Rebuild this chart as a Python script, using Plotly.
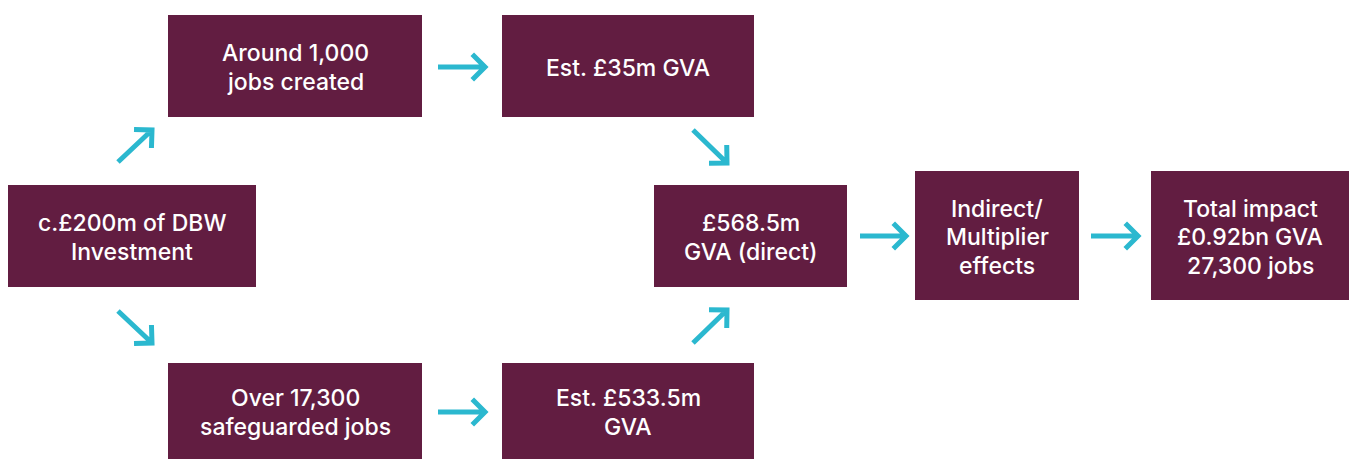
import plotly.graph_objects as go
import math

# Diagram content
box_labels = [
    "c.£200m of DBW<br>Investment",
    "Around 1,000<br>jobs created",
    "Est. £35m GVA",
    "Over 17,300<br>safeguarded jobs",
    "Est. £533.5m<br>GVA",
    "£568.5m<br>GVA (direct)",
    "Indirect/<br>Multiplier<br>effects",
    "Total impact<br>£0.92bn GVA<br>27,300 jobs",
]

# Layout of boxes (x0, x1, y0, y1) in pixel-like units
box_pos = [
    (8, 256, 185, 287),
    (168, 422, 15, 117),
    (502, 754, 15, 117),
    (168, 422, 363, 459),
    (502, 754, 363, 459),
    (654, 847, 185, 287),
    (915, 1079, 171, 300),
    (1151, 1349, 171, 300),
]

# Arrows (tail x, tail y, head x, head y)
arrow_pos = [
    (118, 162, 152, 130),
    (118, 311, 152, 343),
    (438, 67, 485, 67),
    (438, 412, 485, 412),
    (693, 130, 727, 163),
    (693, 343, 727, 310),
    (860, 236, 906, 236),
    (1091, 236, 1138, 236),
]

BOX = "#621D41"
TEAL = "#2BB8CF"
W, H = 1357, 459
LINE_GAP = 28.5
TEXT_DY = 1.5

fig = go.Figure()
shapes = []
annotations = []
for (x0, x1, y0, y1), lab in zip(box_pos, box_labels):
    shapes.append(dict(type="rect", x0=x0, x1=x1, y0=y0, y1=y1,
                       fillcolor=BOX, line=dict(width=0), layer="below"))
    lines = lab.split("<br>")
    cy = (y0 + y1) / 2 + TEXT_DY
    for i, ln in enumerate(lines):
        annotations.append(dict(x=(x0 + x1) / 2, y=cy + (i - (len(lines) - 1) / 2) * LINE_GAP,
                                text=ln, showarrow=False, xref="x", yref="y",
                                font=dict(family="Inter", size=23, color="white", weight=500),
                                align="center"))

for (tx, ty, hx, hy) in arrow_pos:
    dx, dy = hx - tx, hy - ty
    L = math.hypot(dx, dy)
    bx, by = -dx / L, -dy / L
    leg = 18
    c, s = math.cos(math.pi / 4), math.sin(math.pi / 4)
    p1 = (hx + leg * (bx * c - by * s), hy + leg * (bx * s + by * c))
    p2 = (hx + leg * (bx * c + by * s), hy + leg * (-bx * s + by * c))
    path = (f"M {tx} {ty} L {hx} {hy} "
            f"M {p1[0]:.2f} {p1[1]:.2f} L {hx} {hy} L {p2[0]:.2f} {p2[1]:.2f}")
    shapes.append(dict(type="path", path=path, line=dict(color=TEAL, width=5)))

fig.update_layout(
    width=W, height=H,
    margin=dict(l=0, r=0, t=0, b=0),
    paper_bgcolor="white", plot_bgcolor="white",
    xaxis=dict(range=[0, W], visible=False, fixedrange=True),
    yaxis=dict(range=[H, 0], visible=False, fixedrange=True),
    shapes=shapes, annotations=annotations, showlegend=False,
)
fig.write_html("out.html", config={"displayModeBar": False},
               post_script="document.body.style.margin='0';document.body.style.overflow='hidden';")
